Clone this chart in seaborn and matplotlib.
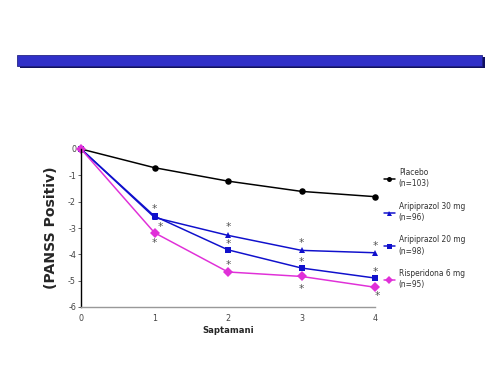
import matplotlib
matplotlib.use("Agg")
import matplotlib.pyplot as plt
import matplotlib.patches as mpatches
import numpy as np
import pandas as pd
import seaborn as sns

# weeks and mean change from baseline in PANSS positive score
weeks = [0, 1, 2, 3, 4]
placebo = [0, -0.71, -1.22, -1.61, -1.81]
aripiprazol_30 = [0, -2.6, -3.28, -3.85, -3.94]
aripiprazol_20 = [0, -2.55, -3.83, -4.52, -4.9]
risperidona_6 = [0, -3.18, -4.67, -4.84, -5.25]

labels = ["Placebo\n(n=103)", "Aripiprazol 30 mg\n(n=96)",
          "Aripiprazol 20 mg\n(n=98)", "Risperidona 6 mg\n(n=95)"]
colors = ["black", "#1010cc", "#1010cc", "#e030d8"]
markers = ["o", "^", "s", "D"]

# significance asterisks (week, y position)
star_x = [1, 1.08, 1, 2, 2, 2, 3, 3, 3, 4, 4, 4.03]
star_y = [-2.17, -2.85, -3.46, -2.85, -3.5, -4.3, -3.46, -4.18, -5.2, -3.57, -4.56, -5.5]

rows = []
for lab, vals in zip(labels, [placebo, aripiprazol_30, aripiprazol_20, risperidona_6]):
    for w, v in zip(weeks, vals):
        rows.append({"week": w, "value": v, "group": lab})
df = pd.DataFrame(rows)

sns.set_style("white")
plt.rcParams["axes.unicode_minus"] = False
fig = plt.figure(figsize=(7, 5.25), dpi=72)

# blue title bar at the top
fig.patches.append(mpatches.Rectangle((20 / 504, 1 - 68 / 378), 465 / 504, 11 / 378,
                                      transform=fig.transFigure, facecolor="#101060",
                                      edgecolor="none", zorder=0))
fig.patches.append(mpatches.Rectangle((17 / 504, 1 - 66 / 378), 465 / 504, 11 / 378,
                                      transform=fig.transFigure, facecolor="#3030c8",
                                      edgecolor="#202080", linewidth=0.8, zorder=1))

ax = fig.add_axes([81 / 504, 1 - 307 / 378, 294 / 504, 158 / 378])
sns.lineplot(data=df, x="week", y="value", hue="group", style="group",
             palette=dict(zip(labels, colors)), markers=dict(zip(labels, markers)),
             dashes=False, linewidth=1.5, markersize=6.5, markeredgewidth=0,
             ax=ax, clip_on=False)

for sx, sy in zip(star_x, star_y):
    ax.text(sx, sy - 0.1, "*", ha="center", va="center", fontsize=10.5, color="#555555")

ax.set_xlim(0, 4)
ax.set_ylim(-6, 0)
ax.set_xticks(weeks)
ax.set_yticks(range(-6, 1))
ax.tick_params(axis="both", labelsize=8, colors="#444444", length=3)
ax.tick_params(axis="x", length=0, pad=7)
ax.tick_params(axis="y", left=True, pad=2)
for side in ["top", "right"]:
    ax.spines[side].set_visible(False)
ax.spines["left"].set_color("black")
ax.spines["left"].set_linewidth(1.4)
ax.spines["bottom"].set_color("#999999")
ax.spines["bottom"].set_linewidth(1.4)
ax.set_xlabel("Saptamani", fontsize=8.5, fontweight="bold", labelpad=3)
ax.set_ylabel("(PANSS Positiv)", fontsize=14, fontweight="bold", labelpad=10)

handles, leg_labels = ax.get_legend_handles_labels()
for h in handles:
    h.set_markersize(5)
leg = ax.legend(handles, leg_labels, loc="upper left", bbox_to_anchor=(1.03, 0.88),
                frameon=False, fontsize=7.5, handlelength=1.5, labelspacing=1.75,
                handletextpad=0.5, borderaxespad=0, borderpad=0)
for t in leg.get_texts():
    t.set_color("#333333")
    t.set_linespacing(1.35)

fig.savefig("out.png", dpi=72)
